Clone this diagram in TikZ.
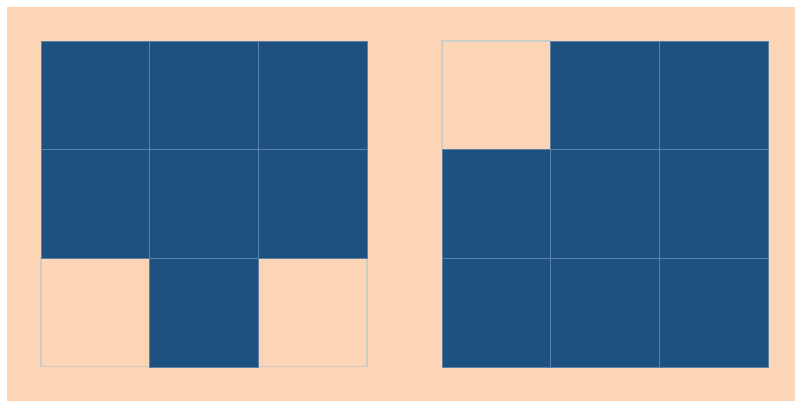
\documentclass[tikz,border=0pt]{standalone}
\definecolor{peach}{RGB}{251,213,181}
\definecolor{cellblue}{RGB}{31,81,128}
\definecolor{gridline}{RGB}{92,130,168}
\definecolor{emptyline}{RGB}{205,205,200}
\tikzset{
  cell/.style={minimum width=108.67pt, minimum height=108.67pt, inner sep=0pt, outer sep=0pt, anchor=center},
  full/.style={cell, fill=cellblue, draw=gridline, line width=0.8pt},
  empty/.style={cell, draw=emptyline, line width=1.6pt},
}
\begin{document}
\begin{tikzpicture}[x=1pt,y=-1pt]
\useasboundingbox (0,0) rectangle (796,402);
\fill[white] (0,0) rectangle (796,402);
\fill[peach] (7,7) rectangle (795,401);
% left grid: empty cells
\node[empty] (L20) at (95.33,312.33) {};
\node[empty] (L22) at (312.67,312.33) {};
% right grid: empty cell
\node[empty] (R00) at (496.33,95.33) {};
% left grid filled
\node[full] (L00) at (95.33,95.33) {};
\node[full] (L01) at (204,95.33) {};
\node[full] (L02) at (312.67,95.33) {};
\node[full] (L10) at (95.33,204) {};
\node[full] (L11) at (204,204) {};
\node[full] (L12) at (312.67,204) {};
\node[full] (L21) at (204,312.67) {};
% right grid filled
\node[full] (R01) at (605,95.33) {};
\node[full] (R02) at (713.67,95.33) {};
\node[full] (R10) at (496.33,204) {};
\node[full] (R11) at (605,204) {};
\node[full] (R12) at (713.67,204) {};
\node[full] (R20) at (496.33,312.67) {};
\node[full] (R21) at (605,312.67) {};
\node[full] (R22) at (713.67,312.67) {};
\end{tikzpicture}
\end{document}
